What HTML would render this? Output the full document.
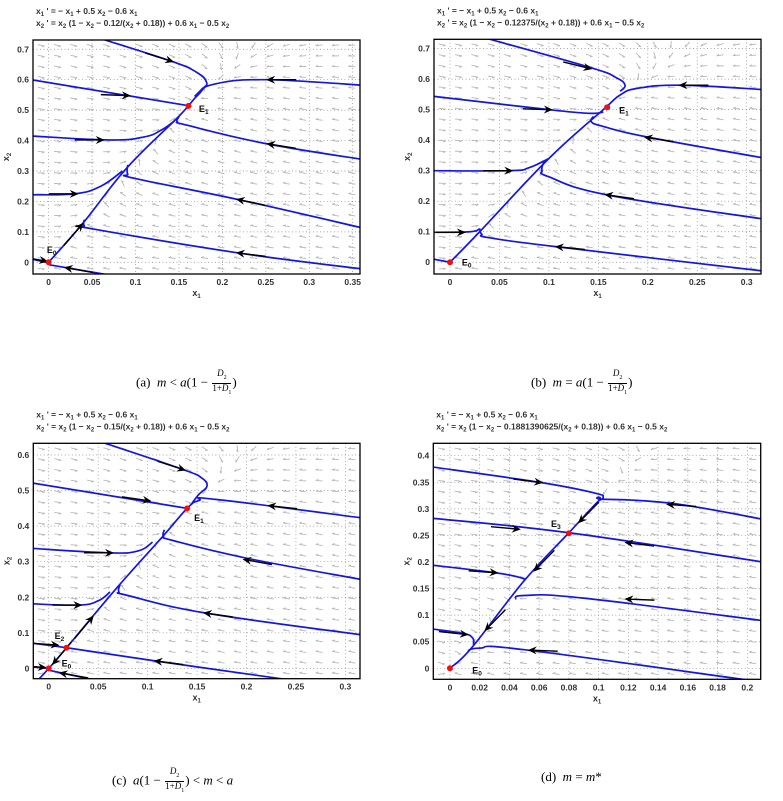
<!DOCTYPE html>
<html><head><meta charset="utf-8"><style>
body{margin:0;background:#fff;width:783px;height:801px;overflow:hidden;font-family:"Liberation Sans",sans-serif}
svg text{font-family:"Liberation Sans",sans-serif}
.cap{position:absolute;font-family:"Liberation Serif",serif;font-size:13px;white-space:nowrap}
.fr{display:inline-block;vertical-align:middle;text-align:center;font-size:9px;line-height:9px;margin:0 1px}
.fr span{display:block}
.fr .n{border-bottom:0.7px solid #000;padding:0 1px}
</style></head><body>
<svg id="fig" width="783" height="801" style="position:absolute;left:0;top:0"></svg>
<div class="cap" style="left:136px;top:369px">(a)&nbsp; <i>m</i> &lt; <i>a</i>(1 − <span class="fr"><span class="n"><i>D</i><sub style="font-size:6px">2</sub></span><span>1+<i>D</i><sub style="font-size:6px">1</sub></span></span>)</div>
<div class="cap" style="left:531px;top:369px">(b)&nbsp; <i>m</i> = <i>a</i>(1 − <span class="fr"><span class="n"><i>D</i><sub style="font-size:6px">2</sub></span><span>1+<i>D</i><sub style="font-size:6px">1</sub></span></span>)</div>
<div class="cap" style="left:112px;top:767px">(c)&nbsp; <i>a</i>(1 − <span class="fr"><span class="n"><i>D</i><sub style="font-size:6px">2</sub></span><span>1+<i>D</i><sub style="font-size:6px">1</sub></span></span>) &lt; <i>m</i> &lt; <i>a</i></div>
<div class="cap" style="left:541px;top:769px">(d)&nbsp; <i>m</i> = <i>m</i>*</div>
<script>
// ---- data ----
const aParam = 0.12, bParam = 0.12375, cParam = 0.15, dParam = 0.1881390625;
const aParamText = "0.12", bParamText = "0.12375", cParamText = "0.15", dParamText = "0.1881390625";
const aXTicks = [0,0.05,0.1,0.15,0.2,0.25,0.3,0.35];
const aYTicks = [0,0.1,0.2,0.3,0.4,0.5,0.6,0.7];
const bXTicks = [0,0.05,0.1,0.15,0.2,0.25,0.3];
const bYTicks = [0,0.1,0.2,0.3,0.4,0.5,0.6,0.7];
const cXTicks = [0,0.05,0.1,0.15,0.2,0.25,0.3];
const cYTicks = [0,0.1,0.2,0.3,0.4,0.5,0.6];
const dXTicks = [0,0.02,0.04,0.06,0.08,0.1,0.12,0.14,0.16,0.18,0.2];
const dYTicks = [0,0.05,0.1,0.15,0.2,0.25,0.3,0.35,0.4];

const aTraj = [
 [[0,0],[0.04,0.13],[0.09,0.31],[0.15,0.48],[0.172,0.55],[0.19,0.585],[0.25,0.6],[0.37,0.58]],
 [[0.06,0.735],[0.14,0.662],[0.17,0.625],[0.182,0.59],[0.176,0.568],[0.168,0.545]],
 [[-0.02,0.6],[0.16,0.515]],
 [[-0.02,0.415],[0.07,0.402],[0.11,0.412],[0.13,0.435],[0.145,0.465]],
 [[-0.02,0.222],[0.03,0.225],[0.06,0.25],[0.085,0.3]],
 [[0.15,0.478],[0.148,0.462],[0.16,0.45],[0.25,0.39],[0.37,0.334]],
 [[0.091,0.32],[0.091,0.29],[0.1,0.275],[0.22,0.205],[0.37,0.107]],
 [[0.041,0.14],[0.041,0.12],[0.05,0.11],[0.22,0.03],[0.37,-0.025]],
 [[-0.02,0.011],[0,-0.002]],
 [[0,-0.008],[0.066,-0.04]]
];
const aArrows = [[0.14,0.662,1,-0.9],[0.09,0.548,1,-0.1],[0.06,0.402,1,0],[0.03,0.225,1,0],[0.037,0.12,0.3,1],[0.255,0.6,-1,0],[0.255,0.388,-1,0.45],[0.22,0.205,-1,0.6],[0.22,0.03,-1,0.35],[-0.005,0.005,1,-0.5],[0.022,-0.019,-1,0.5]];
const aEq = [[0.161,0.514,"E1",0.012,-0.02],[0,0,"E0",-0.002,0.03]];

const bTraj = [
 [[0,0],[0.03,0.1],[0.1,0.34],[0.155,0.5],[0.172,0.548],[0.19,0.57],[0.235,0.58],[0.32,0.565]],
 [[0.03,0.74],[0.14,0.64],[0.168,0.605],[0.177,0.58],[0.172,0.56]],
 [[-0.02,0.545],[0.1,0.5],[0.14,0.488],[0.155,0.492]],
 [[-0.02,0.3],[0.06,0.3],[0.08,0.31],[0.1,0.34]],
 [[-0.02,0.098],[0.02,0.1],[0.03,0.11]],
 [[0.145,0.478],[0.143,0.46],[0.155,0.445],[0.2,0.41],[0.32,0.34]],
 [[0.095,0.33],[0.093,0.3],[0.1,0.28],[0.16,0.22],[0.32,0.14]],
 [[0.03,0.11],[0.032,0.092],[0.04,0.08],[0.11,0.05],[0.32,-0.03]],
 [[-0.02,0.012],[0,0]]
];
const bArrows = [[0.14,0.636,1,-0.8],[0.1,0.5,1,-0.1],[0.06,0.3,1,0],[0.012,0.098,1,0],[0.235,0.58,-1,0],[0.2,0.408,-1,0.5],[0.16,0.22,-1,0.45],[0.11,0.05,-1,0.3]];
const bEq = [[0.159,0.508,"E1",0.012,-0.02],[0,0,"E0",0.012,-0.01]];

const cTraj = [
 [[-0.02,-0.06],[0,0],[0.018,0.058],[0.07,0.23],[0.115,0.37],[0.14,0.45],[0.152,0.472],[0.17,0.475],[0.32,0.422]],
 [[0.055,0.635],[0.135,0.56],[0.155,0.535],[0.16,0.512],[0.152,0.49],[0.145,0.465]],
 [[-0.02,0.523],[0.14,0.45]],
 [[-0.02,0.338],[0.06,0.325],[0.09,0.33],[0.105,0.355]],
 [[-0.02,0.182],[0.03,0.178],[0.05,0.19],[0.062,0.215]],
 [[0.117,0.39],[0.116,0.372],[0.125,0.36],[0.2,0.31],[0.32,0.248]],
 [[0.072,0.235],[0.071,0.215],[0.08,0.205],[0.16,0.155],[0.32,0.093]],
 [[-0.02,0.072],[0.018,0.058],[0.11,0.02],[0.25,-0.035]],
 [[-0.02,0.005],[0,0]],
 [[0,-0.005],[0.05,-0.035]]
];
const cArrows = [[0.135,0.56,1,-0.9],[0.1,0.472,1,-0.4],[0.062,0.325,1,0],[0.03,0.178,1,0],[0.007,0.066,1,-0.2],[0.043,0.14,0.3,1],[0.225,0.457,-1,0.3],[0.2,0.305,-1,0.5],[0.16,0.155,-1,0.4],[0.11,0.02,-1,0.35],[0.006,0.018,-0.3,-1],[0.014,-0.014,-1,0.5],[-0.006,0.003,1,-0.2]];
const cEq = [[0.14,0.45,"E1",0.007,-0.035],[0.018,0.058,"E2",-0.012,0.025],[0,0,"E0",0.013,0.005]];

const dTraj = [
 [[0,0],[0.015,0.04],[0.05,0.165],[0.08,0.255],[0.1,0.315],[0.103,0.318],[0.15,0.31],[0.215,0.278]],
 [[-0.015,0.38],[0.06,0.35],[0.097,0.33],[0.103,0.322],[0.1,0.315]],
 [[-0.015,0.283],[0.08,0.255],[0.215,0.198]],
 [[-0.015,0.195],[0.03,0.18],[0.048,0.17],[0.05,0.165]],
 [[0.044,0.13],[0.05,0.137],[0.09,0.132],[0.215,0.088]],
 [[-0.015,0.075],[0.008,0.066],[0.015,0.058],[0.016,0.045]],
 [[0.012,0.033],[0.02,0.038],[0.05,0.035],[0.2,-0.022]]
];
const dArrows = [[0.06,0.35,1,-0.35],[0.045,0.262,1,-0.25],[0.03,0.18,1,-0.2],[0.01,0.064,1,-0.3],[0.148,0.308,-1,0.2],[0.12,0.236,-1,0.35],[0.12,0.13,-1,0.1],[0.055,0.034,-1,0.1],[0.088,0.278,-0.35,-1],[0.058,0.187,-0.35,-1],[0.025,0.075,-0.35,-1]];
const dEq = [[0.08,0.254,"E3",-0.012,0.012],[0,0,"E0",0.015,-0.01]];

// ---- rendering ----
const NS="http://www.w3.org/2000/svg";
const fig=document.getElementById('fig');
function mk(tag,attrs,parent){const e=document.createElementNS(NS,tag);for(const k in attrs)e.setAttribute(k,attrs[k]);(parent||fig).appendChild(e);return e;}
function smooth(P){
 if(P.length<3)return 'M'+P.map(p=>p[0]+','+p[1]).join('L');
 let d='M'+P[0][0]+','+P[0][1];
 for(let i=0;i<P.length-1;i++){
  const p0=P[i-1]||P[i],p1=P[i],p2=P[i+1],p3=P[i+2]||P[i+1];
  const t=0.2;
  d+=`C${p1[0]+(p2[0]-p0[0])*t},${p1[1]+(p2[1]-p0[1])*t} ${p2[0]-(p3[0]-p1[0])*t},${p2[1]-(p3[1]-p1[1])*t} ${p2[0]},${p2[1]}`;
 }
 return d;
}

function panel(id,box,xr,yr,xt,yt,c,cText,traj,arrows,eqs){
 const g=mk('g',{});
 
 
 const X=v=>box.l+(v-xr[0])/(xr[1]-xr[0])*(box.r-box.l);
 const Y=v=>box.b-(v-yr[0])/(yr[1]-yr[0])*(box.b-box.t);
 const clipId='clip'+id;
 const cp=mk('clipPath',{id:clipId},g);mk('rect',{x:box.l,y:box.t,width:box.r-box.l,height:box.b-box.t},cp);
 const t1=mk('text',{x:box.l+3,y:box.t-26,'font-size':8.5,'font-weight':'bold',fill:'#333'},g);
 
 
 t1.innerHTML='x<tspan font-size="6" dy="2">1</tspan><tspan dy="-2"> \' = − x</tspan><tspan font-size="6" dy="2">1</tspan><tspan dy="-2"> + 0.5 x</tspan><tspan font-size="6" dy="2">2</tspan><tspan dy="-2"> − 0.6 x</tspan><tspan font-size="6" dy="2">1</tspan>';
 const t2=mk('text',{x:box.l+3,y:box.t-14,'font-size':8.5,'font-weight':'bold',fill:'#333'},g);
 
 
 t2.innerHTML='x<tspan font-size="6" dy="2">2</tspan><tspan dy="-2"> \' = x</tspan><tspan font-size="6" dy="2">2</tspan><tspan dy="-2"> (1 − x</tspan><tspan font-size="6" dy="2">2</tspan><tspan dy="-2"> − '+cText+'/(x</tspan><tspan font-size="6" dy="2">2</tspan><tspan dy="-2"> + 0.18)) + 0.6 x</tspan><tspan font-size="6" dy="2">1</tspan><tspan dy="-2"> − 0.5 x</tspan><tspan font-size="6" dy="2">2</tspan>';
 xt.forEach(v=>{const l=mk('line',{x1:X(v),x2:X(v),y1:box.t,y2:box.b,stroke:'#888','stroke-width':0.7,'stroke-dasharray':'1,2.5'},g);
  const tx=mk('text',{x:X(v),y:box.b+11,'font-size':8.5,'font-weight':'bold','text-anchor':'middle',fill:'#333'},g);tx.textContent=String(v);});
 yt.forEach(v=>{const l=mk('line',{x1:box.l,x2:box.r,y1:Y(v),y2:Y(v),stroke:'#888','stroke-width':0.7,'stroke-dasharray':'1,2.5'},g);
  const tx=mk('text',{x:box.l-4,y:Y(v)+3,'font-size':8.5,'font-weight':'bold','text-anchor':'end',fill:'#333'},g);tx.textContent=String(v);});
 const q=mk('g',{'clip-path':'url(#'+clipId+')',stroke:'#b8b8b8','stroke-width':0.9,fill:'none'},g);
 
 
 const nx=20,ny=22;
 for(let i=0;i<nx;i++)for(let j=0;j<ny;j++){
  const x=xr[0]+(i+0.5)*(xr[1]-xr[0])/nx, y=yr[0]+(j+0.5)*(yr[1]-yr[0])/ny;
  const f1=-x+0.5*y-0.6*x, f2=y*(1-y-c/(y+0.18))+0.6*x-0.5*y;
  let px=f1*(box.r-box.l)/(xr[1]-xr[0]), py=-f2*(box.b-box.t)/(yr[1]-yr[0]);
  const n=Math.hypot(px,py)||1; px=px/n*7; py=py/n*7;
  const cx=X(x),cy=Y(y);
  const ux=px/7,uy=py/7;
  const hx=cx+px/2,hy=cy+py/2;
  mk('path',{d:`M${cx-px/2},${cy-py/2}L${hx},${hy}M${hx-ux*2.5-uy*1.2},${hy-uy*2.5+ux*1.2}L${hx},${hy}`},q);
 }
 const tg=mk('g',{'clip-path':'url(#'+clipId+')'},g);
 traj.forEach(pts=>{
  const p=mk('path',{d:smooth(pts.map(p=>[X(p[0]),Y(p[1])])),fill:'none',stroke:'#1414e6','stroke-width':1.7,'stroke-linejoin':'round'},tg);
  
  
 });
 arrows.forEach(a=>{
  const cx=X(a[0]),cy=Y(a[1]);
  let dx=a[2]*(box.r-box.l)/(xr[1]-xr[0]),dy=-a[3]*(box.b-box.t)/(yr[1]-yr[0]);
  const n=Math.hypot(dx,dy);dx/=n;dy/=n;
  const ag=mk('g',{},tg);
  
  
  mk('line',{x1:cx-dx*26,y1:cy-dy*26,x2:cx,y2:cy,stroke:'#000','stroke-width':1.4},ag);
  mk('path',{d:`M${cx+dx*4},${cy+dy*4}L${cx-dx*5-dy*4},${cy-dy*5+dx*4}L${cx-dx*2},${cy-dy*2}L${cx-dx*5+dy*4},${cy-dy*5-dx*4}Z`,fill:'#000'},ag);
 });
 eqs.forEach(e=>{
  const d=mk('circle',{cx:X(e[0]),cy:Y(e[1]),r:3,fill:'#f01010'},g);
  
  
  const t=mk('text',{x:X(e[0]+e[3]),y:Y(e[1]+e[4]),'font-size':9,'font-weight':'bold',fill:'#111'},g);
  t.innerHTML='E<tspan font-size="6.5" dy="2">'+e[2].slice(1)+'</tspan>';
  
  
 });
 const fr=mk('rect',{x:box.l,y:box.t,width:box.r-box.l,height:box.b-box.t,fill:'none',stroke:'#000','stroke-width':1.3},g);
 
 
 const xl=mk('text',{x:(box.l+box.r)/2,y:box.b+22,'font-size':9,'font-weight':'bold','text-anchor':'middle',fill:'#333'},g);
 xl.innerHTML='x<tspan font-size="6" dy="2">1</tspan>';
 
 
 const yl=mk('text',{x:0,y:0,'font-size':9,'font-weight':'bold','text-anchor':'middle',fill:'#333',transform:`translate(${box.l-24},${(box.t+box.b)/2}) rotate(-90)`},g);
 yl.innerHTML='x<tspan font-size="6" dy="2">2</tspan>';
 
 
}
panel('a',{l:33,r:360,t:40,b:274},[-0.018,0.3584],[-0.0385,0.7305],aXTicks,aYTicks,aParam,aParamText,aTraj,aArrows,aEq);
panel('b',{l:434,r:761,t:39.3,b:274},[-0.0162,0.3145],[-0.0385,0.7305],bXTicks,bYTicks,bParam,bParamText,bTraj,bArrows,bEq);
panel('c',{l:33.3,r:360,t:443.3,b:678.7},[-0.0156,0.3148],[-0.029,0.633],cXTicks,cYTicks,cParam,cParamText,cTraj,cArrows,cEq);
panel('d',{l:433.3,r:760.7,t:443.3,b:679.3},[-0.0112,0.209],[-0.0207,0.4233],dXTicks,dYTicks,dParam,dParamText,dTraj,dArrows,dEq);
</script>
</body></html>
